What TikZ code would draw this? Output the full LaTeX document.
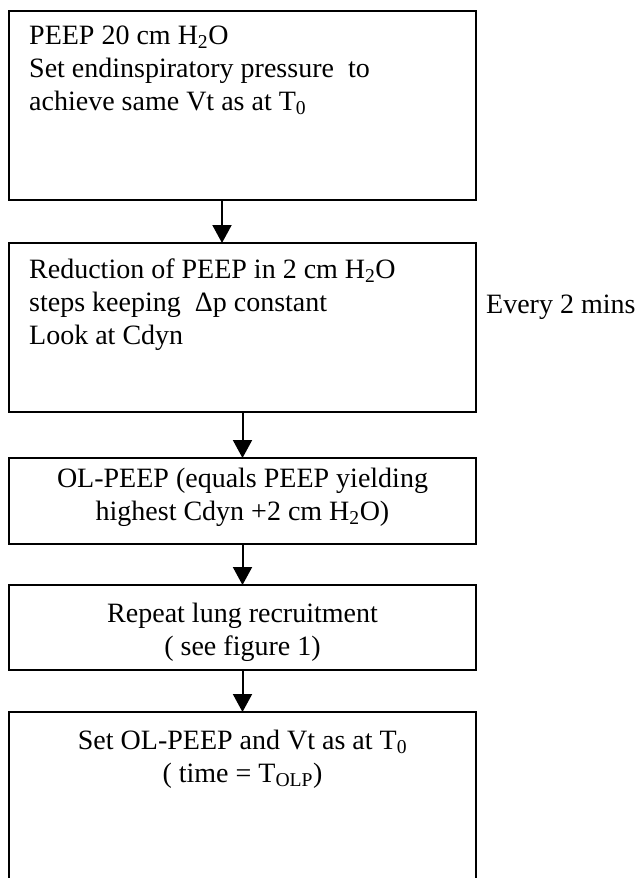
\documentclass[tikz,border=0pt]{standalone}
\usepackage{fontspec}
\setmainfont{Liberation Serif}
\usetikzlibrary{arrows.meta}
\begin{document}
\begin{tikzpicture}[x=1pt,y=-1pt,
  box/.style={draw, line width=2pt, minimum width=467pt, inner sep=0pt, outer sep=0pt, anchor=north west},
  txt/.style={inner sep=0pt, font=\fontsize{28}{33}\selectfont},
  arr/.style={line width=2pt, -{Triangle[length=18pt,width=19pt]}}]
\useasboundingbox (0,0) rectangle (639,878);
\clip (0,0) rectangle (639,878);
\node[box, minimum height=189pt] (b1) at (9,11) {};
\node[box, minimum height=169pt] (b2) at (9,243) {};
\node[box, minimum height=86pt] (b3) at (9,458) {};
\node[box, minimum height=85pt] (b4) at (9,585) {};
\node[box, minimum height=200pt] (b5) at (9,712) {};
\node[txt, align=left, anchor=base west] (t1) at ([shift={(20,99)}]b1.north west)
  {PEEP 20 cm H\textsubscript{2}O\\Set endinspiratory pressure~ to\\achieve same Vt as at T\textsubscript{0}};
\node[txt, align=left, anchor=base west] (t2) at ([shift={(20,101)}]b2.north west)
  {Reduction of PEEP in 2 cm H\textsubscript{2}O\\steps keeping~ Δp constant\\Look at Cdyn};
\node[txt, anchor=base west] (ev) at (486,313) {Every 2 mins};
\node[txt, align=center, anchor=base] (t3) at ([shift={(0,62)}]b3.north)
  {OL-PEEP (equals PEEP yielding\\highest Cdyn +2 cm H\textsubscript{2}O)};
\node[txt, align=center, anchor=base] (t4) at ([shift={(0,70)}]b4.north)
  {Repeat lung recruitment\\( see figure 1)};
\node[txt, align=center, anchor=base] (t5) at ([shift={(0,70)}]b5.north)
  {Set OL-PEEP and Vt as at T\textsubscript{0}\\( time = T\textsubscript{OLP})};
\draw[arr] ([xshift=-20.5pt]b1.south) -- ([xshift=-20.5pt]b2.north);
\draw[arr] (b2.south) -- (b3.north);
\draw[arr] (b3.south) -- (b4.north);
\draw[arr] (b4.south) -- (b5.north);
\end{tikzpicture}
\end{document}
